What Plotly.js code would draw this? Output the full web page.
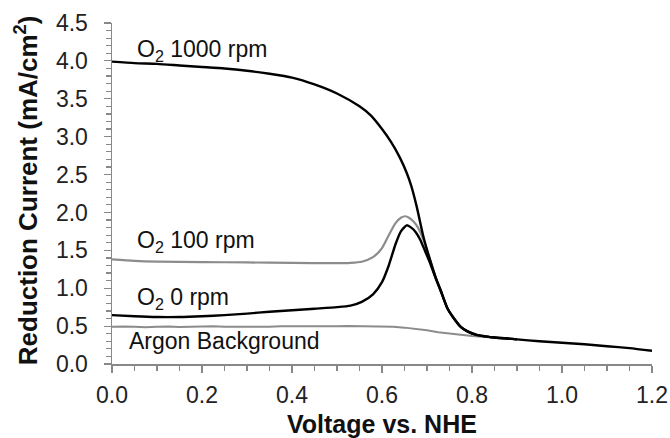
<!DOCTYPE html>
<html>
<head>
<meta charset="utf-8">
<script src="https://cdn.plot.ly/plotly-3.0.1.min.js"></script>
<style>html,body{margin:0;padding:0;background:#fff;}#chart{width:670px;height:438px;}</style>
</head>
<body>
<div id="chart"></div>
<script>
// Voltage vs. NHE (V) and reduction current (mA/cm2)
const v1000 = [0,0.05,0.1,0.15,0.2,0.25,0.3,0.35,0.4,0.45,0.5,0.55,0.575,0.6,0.62,0.64,0.655,0.665,0.677,0.692,0.707,0.72,0.73,0.745,0.76,0.775,0.79,0.81,0.83,0.85,0.9,0.95,1.0,1.05,1.1,1.15,1.2];
const i1000 = [3.99,3.97,3.96,3.94,3.92,3.90,3.87,3.83,3.78,3.69,3.57,3.40,3.28,3.10,2.93,2.72,2.52,2.35,2.08,1.68,1.37,1.13,0.98,0.74,0.60,0.49,0.43,0.385,0.365,0.35,0.325,0.30,0.28,0.26,0.235,0.21,0.175];

const v100 = [0,0.05,0.1,0.2,0.3,0.4,0.5,0.53,0.555,0.58,0.6,0.615,0.63,0.642,0.652,0.66,0.67,0.68,0.692,0.707,0.72,0.73,0.745,0.76,0.775,0.79,0.81,0.83,0.85,0.9];
const i100 = [1.38,1.36,1.35,1.345,1.34,1.335,1.33,1.335,1.35,1.41,1.53,1.70,1.86,1.93,1.95,1.93,1.88,1.80,1.64,1.37,1.13,0.98,0.74,0.60,0.49,0.43,0.385,0.365,0.35,0.325];

const v0 = [0,0.05,0.1,0.15,0.2,0.25,0.3,0.35,0.4,0.45,0.5,0.53,0.555,0.58,0.6,0.615,0.63,0.642,0.655,0.665,0.675,0.685,0.695,0.707,0.72,0.73,0.745,0.76,0.775,0.79,0.81,0.83,0.85,0.9];
const i0 = [0.645,0.63,0.62,0.62,0.63,0.645,0.665,0.69,0.71,0.73,0.75,0.77,0.82,0.92,1.08,1.30,1.58,1.75,1.83,1.80,1.74,1.64,1.50,1.33,1.12,0.97,0.74,0.60,0.49,0.43,0.385,0.365,0.35,0.325];

const vAr = [0,0.025,0.05,0.075,0.1,0.125,0.15,0.175,0.2,0.225,0.25,0.275,0.3,0.325,0.35,0.375,0.4,0.425,0.45,0.475,0.5,0.525,0.55,0.575,0.6,0.625,0.65,0.675,0.7,0.725,0.75,0.775,0.8,0.825,0.85,0.9];
const iAr = [0.49,0.495,0.49,0.485,0.49,0.495,0.488,0.493,0.49,0.497,0.492,0.489,0.496,0.493,0.49,0.497,0.495,0.5,0.494,0.499,0.497,0.502,0.5,0.505,0.5,0.492,0.48,0.465,0.445,0.42,0.40,0.385,0.37,0.36,0.35,0.325];

const labelText = ["O<sub>2</sub> 1000 rpm","O<sub>2</sub> 100 rpm","O<sub>2</sub> 0 rpm","Argon Background"];
const labelX = [0.05,0.05,0.05,0.034];
const labelY = [4.14,1.62,0.87,0.30];

const xTitle = "<b>Voltage vs. NHE</b>";
const yTitle = "<b>Reduction Current (mA/cm<sup>2</sup>)</b>";

const FONT = "Liberation Sans, Arial, Helvetica, sans-serif";
const GRAY = "#8c8c8c";

const traces = [
  {x:vAr, y:iAr, mode:"lines", line:{color:GRAY, width:2}, name:"Argon Background"},
  {x:v100, y:i100, mode:"lines", line:{color:GRAY, width:2.2, shape:"spline", smoothing:0.6}, name:"O2 100 rpm"},
  {x:v0, y:i0, mode:"lines", line:{color:"#000", width:2.4, shape:"spline", smoothing:0.6}, name:"O2 0 rpm"},
  {x:v1000, y:i1000, mode:"lines", line:{color:"#000", width:2.4, shape:"spline", smoothing:0.6}, name:"O2 1000 rpm"}
];

const axisCommon = {
  showgrid:false, zeroline:false, showline:true, linecolor:"#888", linewidth:1.5,
  ticks:"outside", ticklen:7, tickcolor:"#888", tickwidth:1.2,
  tickfont:{family:FONT, size:23, color:"#222"}
};

const annots = labelText.map((t,k)=>({
  x:labelX[k], y:labelY[k], xref:"x", yref:"y", text:t, showarrow:false,
  xanchor:"left", yanchor:"middle", font:{family:FONT, size:23, color:"#111"}
}));
annots.push({x:0.5, y:-0.176, xref:"paper", yref:"paper", text:xTitle, showarrow:false,
  xanchor:"center", yanchor:"middle", font:{family:FONT, size:25, color:"#111"}});
annots.push({x:-0.159, y:0.51, xref:"paper", yref:"paper", text:yTitle, showarrow:false, textangle:-90,
  xanchor:"center", yanchor:"middle", font:{family:FONT, size:26, color:"#111"}});

const layout = {
  width:670, height:438,
  margin:{l:112, r:18, t:23, b:74},
  paper_bgcolor:"#fff", plot_bgcolor:"#fff",
  showlegend:false,
  font:{family:FONT, color:"#111"},
  xaxis:Object.assign({}, axisCommon, {
    range:[0,1.2], dtick:0.2, tick0:0, tickformat:".1f", ticklabelstandoff:3,
    minor:{dtick:0.05, ticks:"outside", ticklen:5, tickcolor:"#888", tickwidth:1.2, showgrid:false}
  }),
  yaxis:Object.assign({}, axisCommon, {
    range:[0,4.5], dtick:0.5, tick0:0, tickformat:".1f", ticklabelstandoff:11,
    minor:{dtick:0.1, ticks:"outside", ticklen:5, tickcolor:"#888", tickwidth:1.2, showgrid:false}
  }),
  annotations: annots
};

Plotly.newPlot("chart", traces, layout, {staticPlot:true, displayModeBar:false});
</script>
</body>
</html>
